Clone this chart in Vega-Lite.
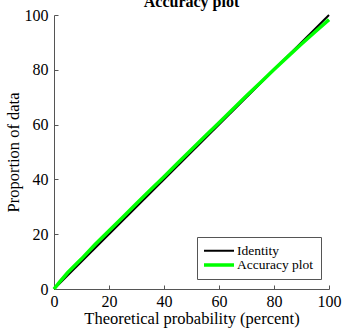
{
  "$schema": "https://vega.github.io/schema/vega-lite/v6.json",
  "autosize": "none",
  "width": 275,
  "height": 274,
  "padding": {"left": 54, "top": 15, "right": 13, "bottom": 43},
  "background": "white",
  "config": {
    "font": "Times New Roman",
    "view": {"stroke": null}
  },
  "title": {"text": "Accuracy plot", "fontSize": 16, "fontWeight": "bold", "font": "Times New Roman", "color": "black", "offset": -3, "anchor": "middle"},
  "data": {"values": [
    {"x": 0, "y": 0, "series": "Identity"},
    {"x": 100, "y": 100, "series": "Identity"},
    {"x": 0, "y": 0, "series": "Accuracy plot"},
    {"x": 2, "y": 2.5, "series": "Accuracy plot"},
    {"x": 5, "y": 6, "series": "Accuracy plot"},
    {"x": 10, "y": 11, "series": "Accuracy plot"},
    {"x": 15, "y": 16.3, "series": "Accuracy plot"},
    {"x": 20, "y": 21.3, "series": "Accuracy plot"},
    {"x": 25, "y": 26.2, "series": "Accuracy plot"},
    {"x": 30, "y": 31.2, "series": "Accuracy plot"},
    {"x": 35, "y": 36.1, "series": "Accuracy plot"},
    {"x": 40, "y": 41, "series": "Accuracy plot"},
    {"x": 45, "y": 46, "series": "Accuracy plot"},
    {"x": 50, "y": 50.9, "series": "Accuracy plot"},
    {"x": 55, "y": 55.8, "series": "Accuracy plot"},
    {"x": 60, "y": 60.7, "series": "Accuracy plot"},
    {"x": 65, "y": 65.6, "series": "Accuracy plot"},
    {"x": 70, "y": 70.5, "series": "Accuracy plot"},
    {"x": 75, "y": 75.3, "series": "Accuracy plot"},
    {"x": 80, "y": 80.1, "series": "Accuracy plot"},
    {"x": 85, "y": 84.8, "series": "Accuracy plot"},
    {"x": 90, "y": 89.4, "series": "Accuracy plot"},
    {"x": 95, "y": 93.9, "series": "Accuracy plot"},
    {"x": 100, "y": 98.3, "series": "Accuracy plot"}
  ]},
  "mark": {"type": "line", "clip": false},
  "encoding": {
    "x": {"field": "x", "type": "quantitative", "scale": {"domain": [0, 100], "nice": false},
      "axis": {"title": "Theoretical probability (percent)", "titleFontSize": 16.5, "titleFont": "Times New Roman", "titleFontWeight": "normal", "titleColor": "black", "titlePadding": 1,
        "values": [0, 20, 40, 60, 80, 100], "labelFontSize": 16, "labelColor": "black", "labelFont": "Times New Roman",
        "grid": false, "domainColor": "#555", "tickColor": "#555", "tickSize": -4, "labelPadding": 8, "labelFlush": false, "labelOverlap": false}},
    "y": {"field": "y", "type": "quantitative", "scale": {"domain": [0, 100], "nice": false},
      "axis": {"title": "Proportion of data", "titleFontSize": 16.5, "titleFont": "Times New Roman", "titleFontWeight": "normal", "titleColor": "black", "titlePadding": 3,
        "values": [0, 20, 40, 60, 80, 100], "labelFontSize": 16, "labelColor": "black", "labelFont": "Times New Roman",
        "grid": false, "domainColor": "#555", "tickColor": "#555", "tickSize": -4, "labelPadding": 10, "labelFlush": false, "labelOverlap": false}},
    "color": {"field": "series", "type": "nominal", "sort": ["Identity", "Accuracy plot"],
      "scale": {"domain": ["Identity", "Accuracy plot"], "range": ["black", "#00ff00"]},
      "legend": {"title": null, "orient": "none", "legendX": 143, "legendY": 222, "symbolType": "M-3,0H3", "symbolSize": 100, "symbolStrokeWidth": 2, "symbolOffset": 8,
        "labelFontSize": 13.5, "labelFont": "Times New Roman", "labelColor": "black", "strokeColor": "#555", "fillColor": "white", "padding": 7, "rowPadding": -1.5, "labelOffset": 11}},
    "strokeWidth": {"field": "series", "type": "nominal", "scale": {"domain": ["Identity", "Accuracy plot"], "range": [2, 3.5]}, "legend": null},
    "order": {"field": "x", "type": "quantitative"}
  }
}
